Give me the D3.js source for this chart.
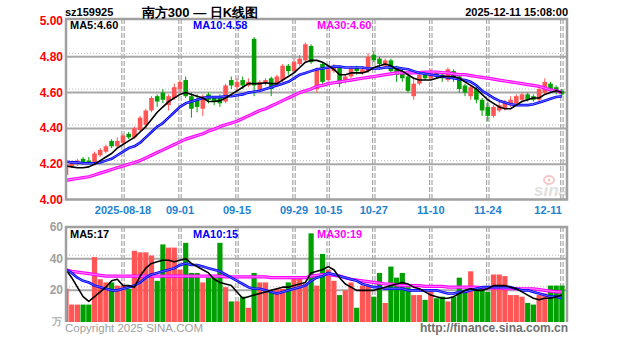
<!DOCTYPE html>
<html><head><meta charset="utf-8">
<script src="https://cdn.jsdelivr.net/npm/d3@7"></script>
<style>html,body{margin:0;padding:0;background:#fff;} svg{display:block;}</style>
</head><body>
<svg id="c" width="627" height="342"></svg>
<script>
// ---------------- data ----------------
const dates = [
"2025-08-04","2025-08-05","2025-08-06","2025-08-07","2025-08-08",
"2025-08-11","2025-08-12","2025-08-13","2025-08-14","2025-08-15",
"2025-08-18","2025-08-19","2025-08-20","2025-08-21","2025-08-22",
"2025-08-25","2025-08-26","2025-08-27","2025-08-28","2025-08-29",
"2025-09-01","2025-09-02","2025-09-03","2025-09-04","2025-09-05",
"2025-09-08","2025-09-09","2025-09-10","2025-09-11","2025-09-12",
"2025-09-15","2025-09-16","2025-09-17","2025-09-18","2025-09-19",
"2025-09-22","2025-09-23","2025-09-24","2025-09-25","2025-09-26",
"2025-09-29","2025-09-30","2025-10-09","2025-10-10","2025-10-13",
"2025-10-14","2025-10-15","2025-10-16","2025-10-17","2025-10-20",
"2025-10-21","2025-10-22","2025-10-23","2025-10-24","2025-10-27",
"2025-10-28","2025-10-29","2025-10-30","2025-10-31","2025-11-03",
"2025-11-04","2025-11-05","2025-11-06","2025-11-07","2025-11-10",
"2025-11-11","2025-11-12","2025-11-13","2025-11-14","2025-11-17",
"2025-11-18","2025-11-19","2025-11-20","2025-11-21","2025-11-24",
"2025-11-25","2025-11-26","2025-11-27","2025-11-28","2025-12-01",
"2025-12-02","2025-12-03","2025-12-04","2025-12-05","2025-12-08",
"2025-12-09","2025-12-10","2025-12-11"];

const openP = [4.14,4.19,4.20,4.23,4.22, 4.21,4.25,4.27,4.33,4.30, 4.32,4.37,4.35,4.39,4.42, 4.50,4.58,4.60,4.53,4.57,
 4.62,4.67,4.58,4.56,4.51, 4.59,4.57,4.57,4.55,4.67, 4.63,4.67,4.64,4.90,4.61, 4.65,4.68,4.64,4.67,4.75,
 4.72,4.76,4.78,4.86,4.62, 4.76,4.67,4.72,4.74,4.66, 4.69,4.74,4.71,4.72,4.81, 4.79,4.75,4.78,4.73,4.71,
 4.69,4.58,4.65,4.71,4.68, 4.71,4.70,4.67,4.72,4.69, 4.64,4.58,4.62,4.56,4.52, 4.47,4.50,4.51,4.53,4.54,
 4.56,4.59,4.58,4.56,4.60, 4.65,4.63,4.61];
const closeP = [4.20,4.21,4.22,4.21,4.21, 4.26,4.28,4.30,4.30,4.33, 4.36,4.35,4.40,4.46,4.50, 4.57,4.55,4.56,4.58,4.63,
 4.66,4.58,4.51,4.52,4.58, 4.56,4.55,4.54,4.64,4.64, 4.66,4.64,4.66,4.64,4.66, 4.67,4.62,4.69,4.75,4.72,
 4.77,4.79,4.87,4.77,4.73, 4.66,4.73,4.74,4.65,4.69, 4.74,4.72,4.73,4.80,4.78, 4.76,4.78,4.72,4.70,4.68,
 4.61,4.65,4.70,4.68,4.71, 4.69,4.68,4.73,4.68,4.62, 4.60,4.63,4.56,4.50,4.47, 4.52,4.53,4.55,4.56,4.58,
 4.59,4.56,4.56,4.62,4.66, 4.61,4.60,4.59];
const highP = [4.21,4.22,4.23,4.24,4.24, 4.27,4.29,4.31,4.34,4.35, 4.37,4.38,4.41,4.47,4.51, 4.58,4.59,4.62,4.59,4.65,
 4.67,4.69,4.60,4.59,4.59, 4.60,4.58,4.59,4.65,4.69, 4.68,4.69,4.68,4.91,4.67, 4.68,4.69,4.70,4.76,4.76,
 4.79,4.81,4.88,4.87,4.74, 4.77,4.74,4.76,4.75,4.70, 4.75,4.75,4.74,4.82,4.83, 4.80,4.79,4.79,4.75,4.73,
 4.70,4.68,4.71,4.72,4.73, 4.72,4.71,4.74,4.73,4.70, 4.65,4.64,4.63,4.57,4.55, 4.53,4.55,4.56,4.58,4.59,
 4.60,4.60,4.59,4.63,4.68, 4.66,4.64,4.62];
const lowP = [4.13,4.18,4.19,4.20,4.20, 4.21,4.24,4.26,4.29,4.29, 4.31,4.34,4.34,4.38,4.40, 4.49,4.52,4.54,4.50,4.56,
 4.60,4.57,4.46,4.49,4.47, 4.54,4.53,4.52,4.54,4.62, 4.61,4.62,4.63,4.58,4.60, 4.64,4.58,4.63,4.66,4.70,
 4.71,4.75,4.77,4.76,4.60, 4.65,4.66,4.71,4.63,4.65, 4.68,4.70,4.70,4.71,4.77, 4.74,4.74,4.70,4.66,4.66,
 4.60,4.56,4.64,4.67,4.67, 4.68,4.66,4.66,4.66,4.60, 4.58,4.56,4.54,4.47,4.44, 4.46,4.49,4.50,4.52,4.53,
 4.55,4.55,4.55,4.55,4.59, 4.60,4.59,4.58];
const volume = [21,11,11,11,11, 41,27,25,25,23, 23,21,45,44,44, 42,26,49,47,47,
 33,50,31,31,25, 28,28,50,22,13, 13,16,9,31,25, 25,19,21,21,25,
 28,28,24,56,23, 43,33,26,17,20, 25,9,23,23,16, 31,12,35,28,31,
 22,17,17,14,19, 15,16,13,16,28, 20,32,22,21,19, 30,30,29,17,17,
 16,12,11,17,18, 23,23,23];

const ma5 = [4.19,4.185,4.18,4.18,4.185, 4.20,4.22,4.24,4.26,4.29, 4.31,4.33,4.35,4.38,4.41, 4.45,4.49,4.52,4.55,4.57,
 4.59,4.60,4.59,4.58,4.57, 4.55,4.55,4.555,4.57,4.59, 4.61,4.63,4.65,4.65,4.65, 4.655,4.65,4.65,4.67,4.69,
 4.71,4.74,4.77,4.78,4.78, 4.77,4.75,4.73,4.70,4.70, 4.71,4.71,4.71,4.72,4.74, 4.75,4.76,4.75,4.73,4.72,
 4.70,4.68,4.67,4.67,4.67, 4.68,4.69,4.69,4.69,4.68, 4.66,4.64,4.62,4.59,4.56, 4.54,4.52,4.51,4.51,4.53,
 4.55,4.56,4.57,4.57,4.59, 4.60,4.61,4.60];
const ma10 = [4.215,4.21,4.21,4.205,4.205, 4.205,4.21,4.22,4.23,4.25, 4.27,4.29,4.30,4.32,4.35, 4.38,4.41,4.43,4.46,4.49,
 4.52,4.54,4.55,4.56,4.57, 4.575,4.575,4.575,4.58,4.58, 4.585,4.59,4.60,4.605,4.61, 4.62,4.63,4.64,4.65,4.66,
 4.68,4.70,4.71,4.72,4.73, 4.735,4.74,4.745,4.745,4.74, 4.74,4.74,4.74,4.735,4.735, 4.735,4.74,4.74,4.74,4.735,
 4.73,4.72,4.71,4.705,4.70, 4.695,4.69,4.685,4.68,4.675, 4.67,4.66,4.64,4.61,4.59, 4.57,4.555,4.545,4.535,4.53,
 4.53,4.53,4.535,4.545,4.555, 4.565,4.575,4.58];
const ma30 = [4.11,4.115,4.12,4.125,4.13, 4.14,4.15,4.16,4.17,4.18, 4.19,4.20,4.21,4.22,4.235, 4.25,4.265,4.28,4.295,4.31,
 4.325,4.34,4.35,4.36,4.37, 4.385,4.395,4.41,4.42,4.43, 4.44,4.455,4.47,4.485,4.50, 4.51,4.525,4.54,4.555,4.57,
 4.585,4.60,4.61,4.62,4.635, 4.64,4.65,4.655,4.66,4.665, 4.67,4.675,4.68,4.685,4.69, 4.695,4.70,4.705,4.71,4.71,
 4.71,4.71,4.712,4.715,4.715, 4.715,4.712,4.71,4.705,4.70, 4.70,4.695,4.69,4.685,4.68, 4.675,4.67,4.665,4.66,4.655,
 4.65,4.645,4.64,4.635,4.625, 4.615,4.61,4.60];

const vma5 = [33,28,22,16,13, 16,19,22,26,27, 23,23,22,29,34, 37,38,39,39,38, 39,40,37,35,33, 31,27,25,24,23,
 19,15,16,17,18, 19,20,21,22,22, 23,24,25,31,32, 33,35,33,28,24, 22,20,20,20,20, 21,22,23,24,25,
 24,22,21,19,17, 16,15,15,16,18, 20,21,20,20,21, 23,23,23,22,21, 19,17,15,14,15, 15,16,17];
const vma10 = [33,31,28,26,25, 23,22,21,20,20, 21,22,23,25,28, 30,31,32,33,34, 36,37,36,36,35, 34,33,32,30,28,
 26,24,22,21,21, 20,19,18,19,20, 21,22,23,26,28, 29,31,30,29,28, 27,26,24,23,22, 22,21,21,21,21,
 20,20,20,20,20, 20,19,18,18,19, 19,20,21,22,22, 22,22,22,22,21, 20,20,19,18,17, 16,16,15];
const vma30 = [33,32,31.5,31,30.5, 30,29.5,29,29,29, 29,29,29,29,29, 29,29,29,29,29, 29,29,29,29,29, 29,29,29,28.5,28.5,
 28.5,28.5,28.5,28.5,28.5, 28.5,28,28,28,28, 28,28,28,29,29.5, 30,30,29.5,29,28, 27,26.5,26,25.5,25, 24.5,24,24,23.5,23,
 23,23,23,22.5,22.5, 22.5,22.5,22,22,22, 22,22,22,21.5,21.5, 21.5,21.5,21,21,21, 21,21,21,20.5,20, 19.5,19,19];

const priceTicks = [4.00, 4.20, 4.40, 4.60, 4.80, 5.00];
const volTicks = [20, 40, 60];
const tickDates = ["2025-08-18","2025-09-01","2025-09-15","2025-09-29","2025-10-15","2025-10-27","2025-11-10","2025-11-24","2025-12-11"];
const tickLabels = ["2025-08-18","09-01","09-15","09-29","10-15","10-27","11-10","11-24","12-11"];

// ---------------- layout ----------------
const svg = d3.select("#c");
const L = 66, R = 567;
const mainTop = 19, mainBot = 199.5;
const volTop = 227, volBot = 322;
const UP = "#ff5555", DOWN = "#00a000", GRID = "#a8a8a8";
const FONT = "'Liberation Sans', Arial, sans-serif";

const x = d3.scalePoint().domain(dates).range([66, 561.9]);
const y = d3.scaleLinear().domain([4, 5]).range([200, 21]);
const yv = d3.scaleLinear().domain([0, 60]).range([322, 227]);

svg.append("rect").attr("width", 627).attr("height", 342).attr("fill", "#fff");

const defs = svg.append("defs");
defs.append("clipPath").attr("id", "clipMain").append("rect")
  .attr("x", L).attr("y", mainTop).attr("width", R - L).attr("height", mainBot - mainTop);
defs.append("clipPath").attr("id", "clipVol").append("rect")
  .attr("x", L).attr("y", volTop).attr("width", R - L).attr("height", volBot - volTop + 2);

// horizontal grid - price
const g = svg.append("g");
priceTicks.filter(t => t > 4.0 && t < 5.0).forEach(t => {
  g.append("line").attr("x1", L).attr("x2", R).attr("y1", y(t)).attr("y2", y(t))
    .attr("stroke", GRID).attr("stroke-width", 2);
  g.append("line").attr("x1", L).attr("x2", R).attr("y1", y(t) - 3.5).attr("y2", y(t) - 3.5)
    .attr("stroke", "#b8b8b8").attr("stroke-width", 1).attr("stroke-dasharray", "1,2");
});
// horizontal grid - volume
volTicks.filter(t => t < 60).forEach(t => {
  g.append("line").attr("x1", L).attr("x2", R).attr("y1", yv(t)).attr("y2", yv(t))
    .attr("stroke", GRID).attr("stroke-width", 2);
  g.append("line").attr("x1", L).attr("x2", R).attr("y1", yv(t) - 3.5).attr("y2", yv(t) - 3.5)
    .attr("stroke", "#b8b8b8").attr("stroke-width", 1).attr("stroke-dasharray", "1,2");
});
// vertical grid
tickDates.forEach(d => {
  const xx = x(d);
  [[mainTop, mainBot], [volTop, volBot]].forEach(([a, b]) => {
    [-1.2, 1.2].forEach(off => {
      g.append("line").attr("x1", xx + off).attr("x2", xx + off).attr("y1", a).attr("y2", b)
        .attr("stroke", GRID).attr("stroke-width", 1.2).attr("stroke-dasharray", "5,2");
    });
  });
});

// sina watermark
const wm = svg.append("g").attr("opacity", 0.55);
wm.append("ellipse").attr("cx", 549).attr("cy", 180).attr("rx", 5).attr("ry", 4)
  .attr("fill", "none").attr("stroke", "#f09a9a").attr("stroke-width", 2);
wm.append("circle").attr("cx", 549).attr("cy", 180).attr("r", 1.5).attr("fill", "#f09a9a");
wm.append("text").attr("x", 551).attr("y", 196).attr("text-anchor", "middle")
  .attr("font-family", FONT).attr("font-size", 17).attr("font-style", "italic").attr("font-weight", "bold")
  .attr("fill", "#c8c8c8").text("sina");

// candles
const cg = svg.append("g").attr("clip-path", "url(#clipMain)");
dates.forEach((d, i) => {
  const up = closeP[i] >= openP[i];
  const col = up ? UP : DOWN;
  const xx = x(d);
  cg.append("line").attr("x1", xx).attr("x2", xx).attr("y1", y(highP[i])).attr("y2", y(lowP[i]))
    .attr("stroke", col).attr("stroke-width", 1);
  const top = y(Math.max(openP[i], closeP[i]));
  const h = Math.max(1, Math.abs(y(openP[i]) - y(closeP[i])));
  cg.append("rect").attr("x", xx - 2.3).attr("y", top).attr("width", 4.6).attr("height", h)
    .attr("fill", col);
});

// MA lines helper
function drawLine(parent, arr, ys, color, w, inner) {
  const line = d3.line().x((d, i) => x(dates[i])).y(d => ys(d));
  parent.append("path").datum(arr).attr("d", line).attr("fill", "none")
    .attr("stroke", color).attr("stroke-width", w).attr("stroke-linejoin", "round");
  if (inner) parent.append("path").datum(arr).attr("d", line).attr("fill", "none")
    .attr("stroke", inner).attr("stroke-width", 0.8);
}
drawLine(cg, ma30, y, "#ff00ff", 3.2, "#ffb0ff");
drawLine(cg, ma10, y, "#0000ff", 2.6, "#8080ff");
drawLine(cg, ma5, y, "#000000", 1.6, null);

// volume bars
const vg = svg.append("g").attr("clip-path", "url(#clipVol)");
dates.forEach((d, i) => {
  const up = closeP[i] >= openP[i];
  vg.append("rect").attr("x", x(d) - 2.6).attr("y", yv(volume[i])).attr("width", 5.2)
    .attr("height", volBot - yv(volume[i])).attr("fill", up ? UP : DOWN);
});
drawLine(vg, vma30, yv, "#ff00ff", 3.2, "#ffb0ff");
drawLine(vg, vma10, yv, "#0000ff", 2.6, "#8080ff");
drawLine(vg, vma5, yv, "#000000", 1.6, null);

// panel borders
svg.append("rect").attr("x", L).attr("y", mainTop).attr("width", R - L).attr("height", mainBot - mainTop)
  .attr("fill", "none").attr("stroke", "#a0a0a0").attr("stroke-width", 2.5);
svg.append("path").attr("d", `M${L},${volBot}V${volTop}H${R}V${volBot}`)
  .attr("fill", "none").attr("stroke", "#a0a0a0").attr("stroke-width", 2.5);

// axis labels
const tx = svg.append("g").attr("font-family", FONT).attr("font-weight", "bold");
priceTicks.forEach(t => {
  tx.append("text").attr("x", 63).attr("y", y(t) + 4).attr("text-anchor", "end")
    .attr("font-size", 12).attr("fill", "#ff0000").text(t.toFixed(2));
});
volTicks.forEach(t => {
  tx.append("text").attr("x", 63).attr("y", yv(t) + 4).attr("text-anchor", "end")
    .attr("font-size", 12).attr("fill", "#a0a0a0").text(String(t));
});
tx.append("text").attr("x", 62).attr("y", 325).attr("text-anchor", "end")
  .attr("font-size", 10).attr("fill", "#b0b0b0").text("万");
tickDates.forEach((d, i) => {
  const last = i === tickDates.length - 1;
  tx.append("text").attr("x", x(d)).attr("y", 214).attr("text-anchor", last ? "end" : "middle")
    .attr("font-size", 11).attr("fill", "#1e82d2").text(tickLabels[i]);
});

// titles
tx.append("text").attr("x", 65).attr("y", 16).attr("font-size", 11).attr("fill", "#000").text("sz159925");
tx.append("text").attr("x", 200).attr("y", 17).attr("text-anchor", "middle").attr("font-size", 13)
  .attr("fill", "#000").text("南方300 — 日K线图");
tx.append("text").attr("x", 568).attr("y", 16).attr("text-anchor", "end").attr("font-size", 11)
  .attr("fill", "#000").text("2025-12-11 15:08:00");

// legends
const legP = [["MA5:" + ma5[ma5.length - 1].toFixed(2), "#000", 70],
              ["MA10:" + ma10[ma10.length - 1].toFixed(2), "#0000ff", 193],
              ["MA30:" + ma30[ma30.length - 1].toFixed(2), "#ff00ff", 317]];
legP.forEach(([s, c, xx]) => tx.append("text").attr("x", xx).attr("y", 29).attr("font-size", 11).attr("fill", c).text(s));
const legV = [["MA5:" + Math.round(vma5[vma5.length - 1]), "#000", 70],
              ["MA10:" + Math.round(vma10[vma10.length - 1]), "#0000ff", 193],
              ["MA30:" + Math.round(vma30[vma30.length - 1]), "#ff00ff", 317]];
legV.forEach(([s, c, xx]) => tx.append("text").attr("x", xx).attr("y", 238).attr("font-size", 11).attr("fill", c).text(s));

// footer
svg.append("text").attr("x", 65).attr("y", 332).attr("font-family", FONT).attr("font-size", 11.5)
  .attr("fill", "#a0a0a0").text("Copyright 2025 SINA.COM");
svg.append("text").attr("x", 568).attr("y", 332).attr("text-anchor", "end").attr("font-family", FONT)
  .attr("font-size", 12).attr("font-weight", "bold").attr("fill", "#707070").text("http://finance.sina.com.cn");
</script>
</body></html>
